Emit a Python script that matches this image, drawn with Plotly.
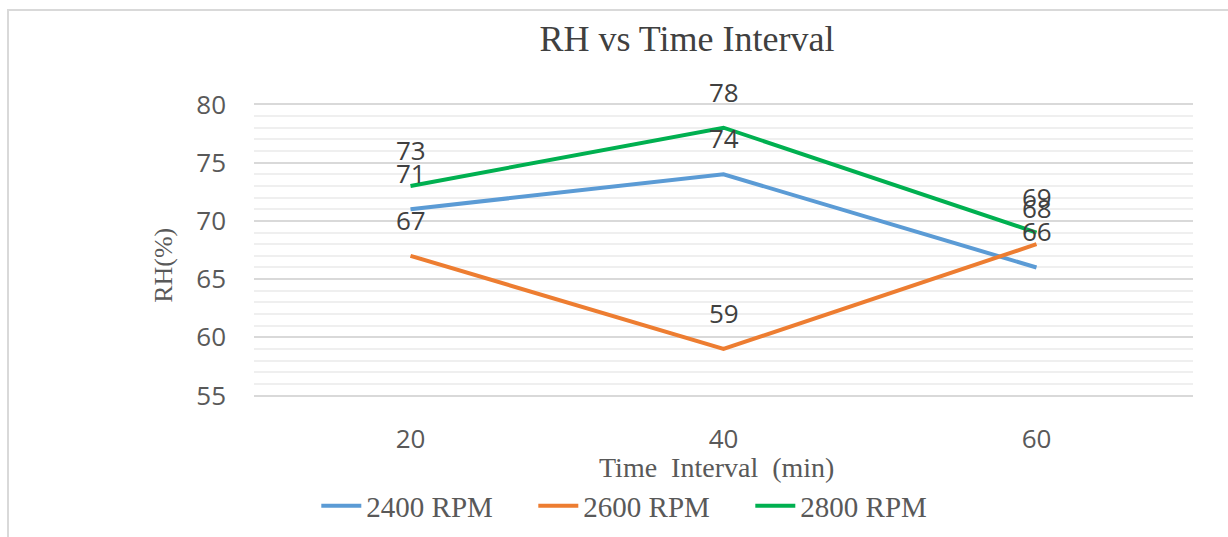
import plotly.graph_objects as go

categories = ["20", "40", "60"]
rpm_2400 = [71, 74, 66]
rpm_2600 = [67, 59, 68]
rpm_2800 = [73, 78, 69]

series_names = ["2400 RPM", "2600 RPM", "2800 RPM"]
series_values = [rpm_2400, rpm_2600, rpm_2800]
series_colors = ["#5B9BD5", "#ED7D31", "#00B050"]

fig = go.Figure()
annotations = []
for name, vals, col in zip(series_names, series_values, series_colors):
    fig.add_trace(go.Scatter(
        x=categories, y=vals, mode="lines", name=name,
        line=dict(color=col, width=4),
    ))
    for i, v in enumerate(vals):
        annotations.append(dict(
            x=i, y=v, xref="x", yref="y", text=str(v), showarrow=False,
            yshift=36, font=dict(family="Open Sans, Liberation Sans", size=26, color="#404040"),
        ))

annotations.append(dict(
    x=0.493, y=-0.241, xref="paper", yref="paper", text="Time  Interval  (min)",
    showarrow=False, xanchor="center", yanchor="middle",
    font=dict(family="Liberation Serif", size=28, color="#595959"),
))
annotations.append(dict(
    x=-0.096, y=0.449, xref="paper", yref="paper", text="RH(%)", textangle=-90,
    showarrow=False, xanchor="center", yanchor="middle",
    font=dict(family="Liberation Serif", size=26, color="#595959"),
))

fig.update_layout(
    width=1228, height=537,
    margin=dict(l=254, r=35, t=103, b=140, autoexpand=False),
    paper_bgcolor="white", plot_bgcolor="white",
    title=dict(text="RH vs Time Interval", x=687 / 1228, xref="container", xanchor="center",
               y=1 - 38 / 537, yref="container", yanchor="middle",
               font=dict(family="Liberation Serif", size=36, color="#404040")),
    xaxis=dict(type="category", range=[-0.5, 2.5], showgrid=False, zeroline=False,
               showline=False, ticks="", ticklabelstandoff=24, automargin=False,
               tickfont=dict(family="Open Sans, Liberation Sans", size=26, color="#595959")),
    yaxis=dict(range=[54.88, 80.12], dtick=5, tick0=55, showgrid=True, gridcolor="#d9d9d9", gridwidth=2,
               zeroline=False, showline=False, ticks="", ticklabelstandoff=27, automargin=False,
               minor=dict(dtick=1, tick0=55, showgrid=True, gridcolor="#efefef", gridwidth=2),
               tickfont=dict(family="Open Sans, Liberation Sans", size=26, color="#595959")),
    legend=dict(orientation="h", x=0.413, y=-0.37, xanchor="center", yanchor="middle",
                font=dict(family="Liberation Serif", size=29, color="#595959"),
                entrywidth=162, entrywidthmode="pixels",
                itemwidth=40, bgcolor="rgba(0,0,0,0)"),
    annotations=annotations,
    shapes=[dict(type="rect", xref="paper", yref="paper", x0=-0.262, y0=-2, x1=2, y1=1.316,
                 line=dict(color="#d9d9d9", width=2), layer="below")],
)

fig.write_html("out.html", config={"displayModeBar": False},
               post_script="document.body.style.margin='0';document.body.style.padding='0';")
